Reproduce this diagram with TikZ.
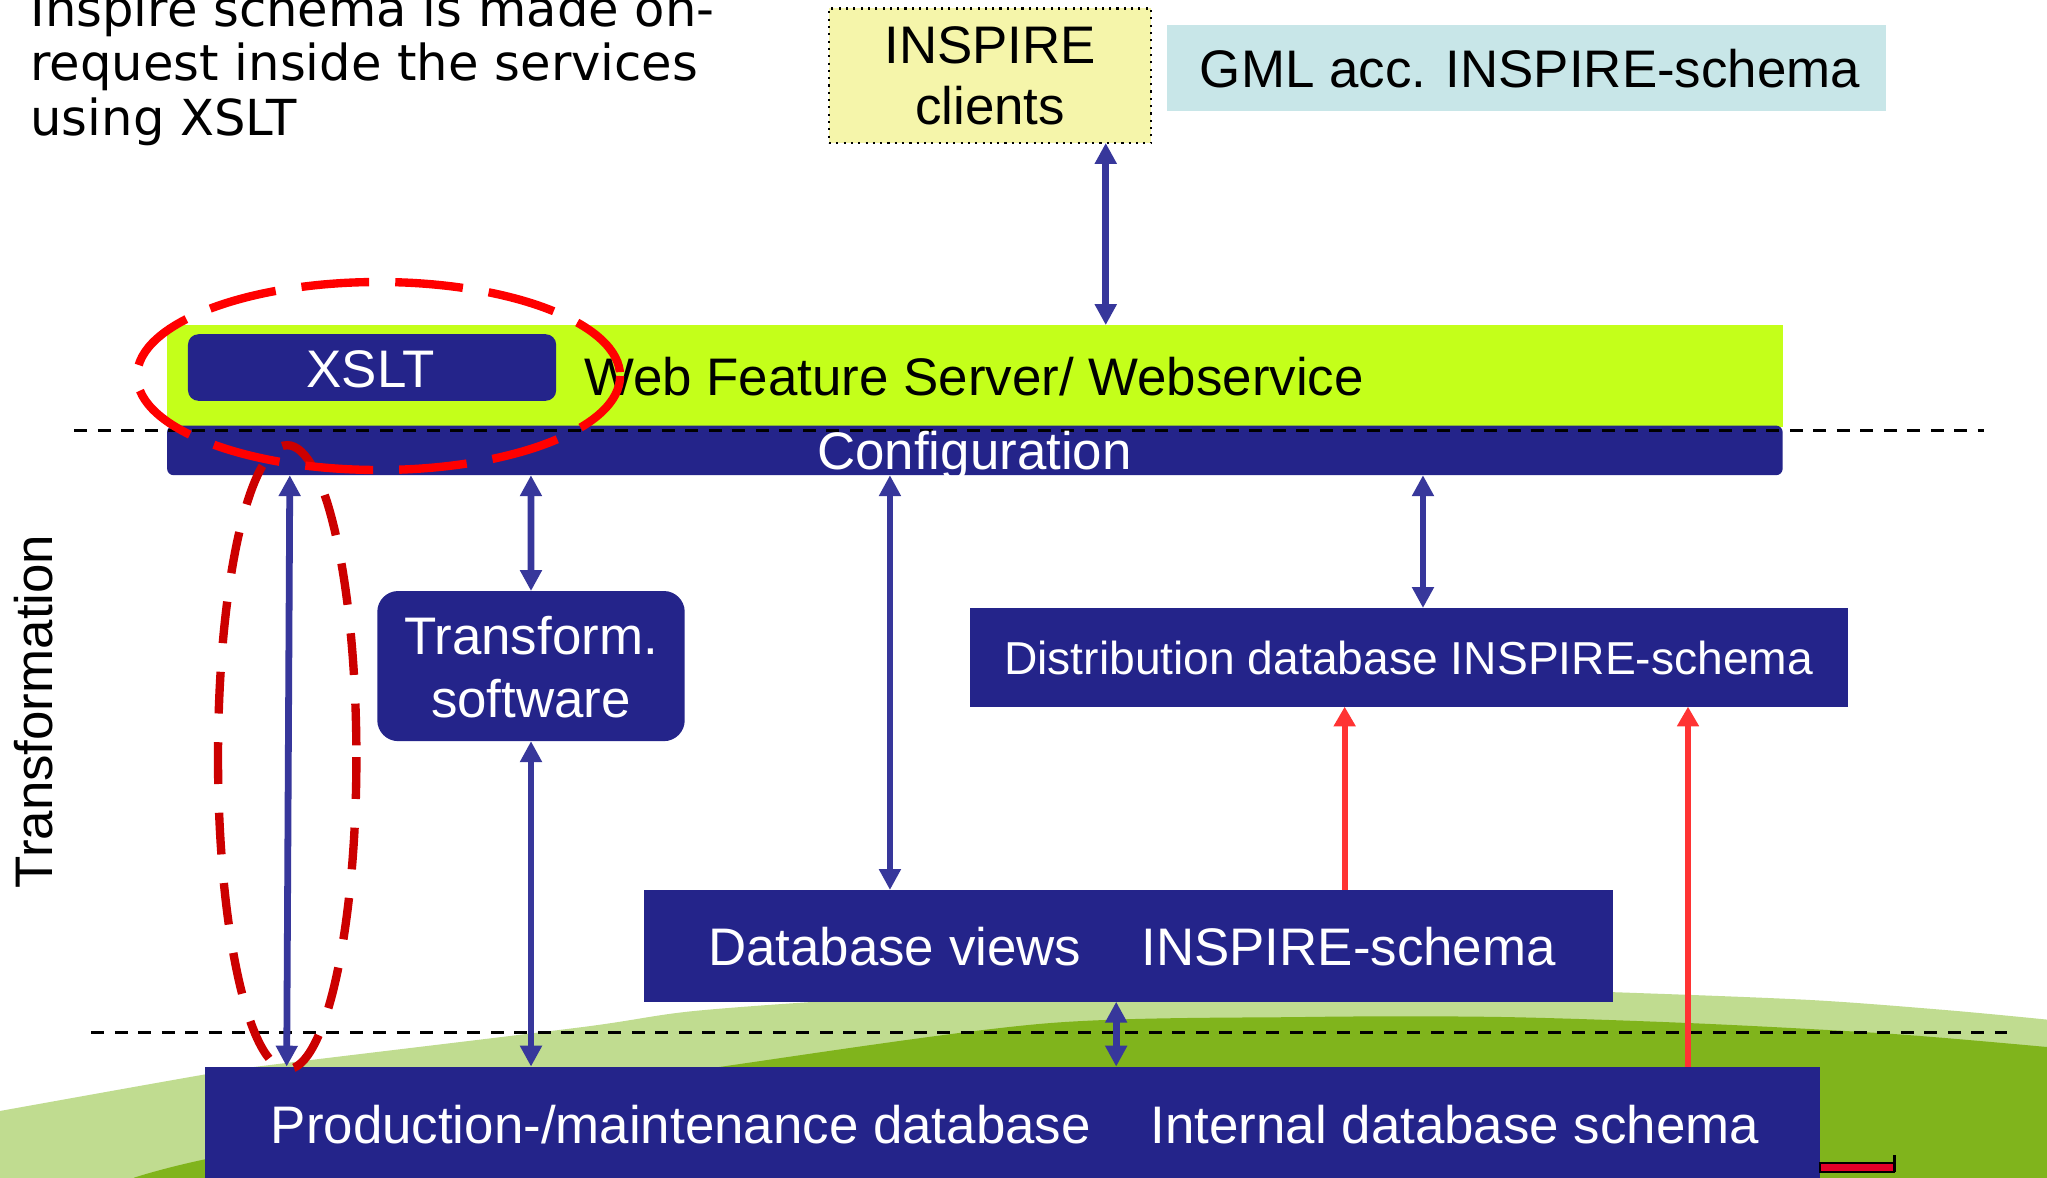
\documentclass[tikz,border=0pt]{standalone}
\usepackage{fontspec}
\setmainfont{Liberation Sans}
\newfontfamily\verd{DejaVu Sans}
\usetikzlibrary{arrows.meta}
\definecolor{navy}{RGB}{36,36,138}
\definecolor{arrowblue}{RGB}{55,55,155}
\definecolor{limec}{RGB}{196,255,26}
\definecolor{yellowc}{RGB}{245,245,170}
\definecolor{cyanc}{RGB}{200,230,232}
\definecolor{redA}{RGB}{255,0,0}
\definecolor{redB}{RGB}{204,0,0}
\definecolor{redarrow}{RGB}{255,51,51}
\definecolor{lightgreen}{RGB}{192,220,144}
\definecolor{darkgreen}{RGB}{128,180,28}
\definecolor{redbar}{RGB}{230,0,40}
\tikzset{
  box/.style={anchor=north west, inner sep=0pt, outer sep=0pt},
  txt/.style={anchor=base, inner sep=0pt, font=\fontsize{20.25pt}{24pt}\selectfont},
  wtxt/.style={txt, text=white},
  barr/.style={draw=arrowblue, line width=2.6pt, >={Triangle[width=8pt,length=8pt]}, <->},
  rarr/.style={draw=redarrow, line width=2.3pt, >={Triangle[width=8pt,length=7.5pt]}, ->},
  dline/.style={draw=black, line width=1.1pt, dash pattern=on 5pt off 4pt},
  redell/.style={line width=3.2pt, dash pattern=on 26pt off 10pt},
}
\begin{document}
\begin{tikzpicture}[x=0.5pt,y=-0.5pt]
\useasboundingbox (0,0) rectangle (1568,901.6);
\fill[white] (0,0) rectangle (1568,901.6);
% background hills
\begin{scope}
\clip (0,0) rectangle (1568,901.6);
\fill[lightgreen] (0,910) -- plot[smooth] coordinates {(0,851) (157,823) (205,816) (444,787) (536,774) (700,763) (900,757) (1100,756) (1236,760) (1387,766) (1494,774) (1568,781)} -- (1568,910) -- cycle;
\fill[darkgreen] (90,910) -- plot[smooth] coordinates {(103,902) (157,888) (350,849) (560,816) (800,784) (1000,779) (1150,779) (1302,784) (1450,792) (1568,802)} -- (1568,910) -- cycle;
\end{scope}
% top boxes
\node[box, fill=yellowc, draw=black, dotted, line width=0.8pt, minimum width=123.5pt, minimum height=51.5pt] (clients) at (635,6.5) {};
\node[box, fill=cyanc, minimum width=275.25pt, minimum height=33pt] (gml) at (894,19) {};
% web feature server
\node[box, fill=limec, minimum width=619pt, minimum height=39pt] (wfs) at (128,249) {};
\node[box, fill=navy, rounded corners=4pt, minimum width=141pt, minimum height=25.5pt] (xslt) at (144,256) {};
\node[box, fill=navy, rounded corners=2.5pt, minimum width=618.75pt, minimum height=19pt] (conf) at (128,326) {};
% dashed dividers
\draw[dline] (57,330) -- (1520,330);
\draw[dline] (70,791) -- (1537,791);
% lower boxes
\node[box, fill=navy, rounded corners=8pt, minimum width=117.75pt, minimum height=57.5pt] (tsw) at (289,452.7) {};
\node[box, fill=navy, minimum width=336.25pt, minimum height=37.8pt] (dist) at (743,465.7) {};
\node[box, fill=navy, minimum width=371.3pt, minimum height=42.8pt] (dbv) at (493,681.7) {};
\node[box, fill=navy, minimum width=618.5pt, minimum height=46pt] (prod) at (157,817) {};
% small red bar
\node[box, fill=redbar, draw=black, line width=0.6pt, minimum width=28.5pt, minimum height=3.4pt] (rbar) at (1394,891) {};
\draw[black, line width=1pt] (rbar.south east) -- ++(0,-13);
% arrows
\draw[barr] (clients.south -| 847,0) -- (wfs.north -| 847,0);
\draw[barr] (conf.south -| 222,0) -- (prod.north -| 219.6,0);
\draw[barr] (conf.south -| 406.7,0) -- (tsw.north);
\draw[barr] (tsw.south) -- (prod.north -| tsw.south);
\draw[barr] (conf.south -| 681.7,0) -- (dbv.north -| 681.7,0);
\draw[barr] (conf.south -| 1090,0) -- (dist.north -| 1090,0);
\draw[barr] (dbv.south -| 855,0) -- (prod.north -| 855,0);
\draw[rarr] (dbv.north -| 1030,0) -- (dist.south -| 1030,0);
\draw[rarr] (prod.north -| 1293,0) -- (dist.south -| 1293,0);
% texts
\node[anchor=base west, inner sep=0pt, font=\verd\fontsize{19pt}{23pt}\selectfont] (tl1) at (23,20.4) {Inspire schema is made on-};
\node[anchor=base west, inner sep=0pt, font=\verd\fontsize{19pt}{23pt}\selectfont] (tl2) at (23,61.3) {request inside the services};
\node[anchor=base west, inner sep=0pt, font=\verd\fontsize{19pt}{23pt}\selectfont] (tl3) at (23,103.4) {using XSLT};
\node[txt] (cl1) at (758.5,49) {INSPIRE};
\node[txt] (cl2) at (758.5,95.7) {clients};
\node[txt] (gmlt) at (1172,67) {GML acc. INSPIRE-schema};
\node[txt, anchor=base west] (wfst) at (447,302.6) {Web Feature Server/ Webservice};
\node[wtxt] (xsltt) at (284,297) {XSLT};
\node[wtxt] (conft) at (746.5,360) {Configuration};
\node[wtxt] (tsw1) at (406.7,501) {Transform.};
\node[wtxt] (tsw2) at (406.7,549.4) {software};
\node[wtxt, font=\fontsize{17.7pt}{21pt}\selectfont] (distt) at (1079,517) {Distribution database INSPIRE-schema};
\node[wtxt, anchor=base west] (dbv1) at (542,739.2) {Database views};
\node[wtxt, anchor=base west] (dbv2) at (874,739.2) {INSPIRE-schema};
\node[wtxt, anchor=base west] (prod1) at (207,875.8) {Production-/maintenance database};
\node[wtxt, anchor=base west] (prod2) at (881,875.8) {Internal database schema};
\node[txt, rotate=90] (trf) at (40,545) {Transformation};
% red highlight ellipses
\draw[redell, redB, dash pattern=on 16pt off 11pt] (220,580) ellipse [x radius=53, y radius=239];
\draw[redell, redA] (290,288) ellipse [x radius=185, y radius=72];
\end{tikzpicture}
\end{document}
